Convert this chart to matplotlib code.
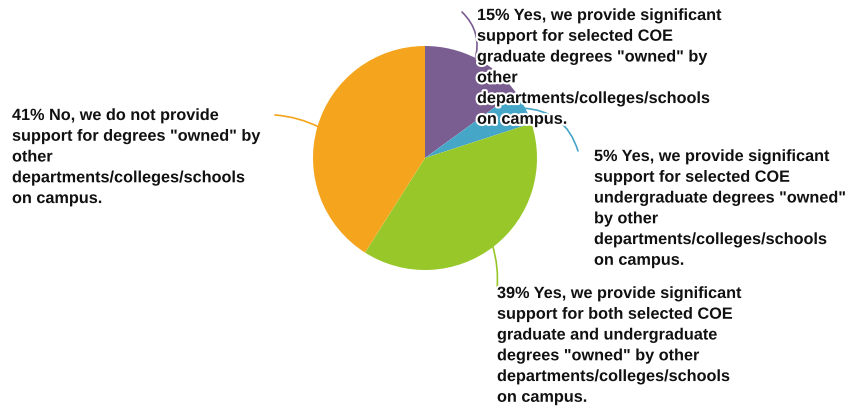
import matplotlib.pyplot as plt
import matplotlib.patheffects as pe
import numpy as np

plt.rcParams['font.family'] = ['Liberation Sans', 'DejaVu Sans']

# data
shares = [15, 5, 39, 41]
labels = [
    '15% Yes, we provide significant\nsupport for selected COE\ngraduate degrees "owned" by\nother\ndepartments/colleges/schools\non campus.',
    '5% Yes, we provide significant\nsupport for selected COE\nundergraduate degrees "owned"\nby other\ndepartments/colleges/schools\non campus.',
    '39% Yes, we provide significant\nsupport for both selected COE\ngraduate and undergraduate\ndegrees "owned" by other\ndepartments/colleges/schools\non campus.',
    '41% No, we do not provide\nsupport for degrees "owned" by\nother\ndepartments/colleges/schools\non campus.',
]
colors = ['#7B5E91', '#46A6C8', '#98C72A', '#F5A51D']

W, H = 847, 407
fig = plt.figure(figsize=(W / 100, H / 100), dpi=100)

cx, cy, r = 425, 158, 112
ax = fig.add_axes([(cx - r) / W, (H - cy - r) / H, 2 * r / W, 2 * r / H])
ax.pie(shares, colors=colors, startangle=90, counterclock=False, radius=1,
       wedgeprops=dict(linewidth=0))
ax.set_xlim(-1, 1)
ax.set_ylim(-1, 1)
ax.set_aspect('auto')
ax.axis('off')

# label positions (pixels: left, top) and leader end points
text_pos = [(477, 8), (594, 149), (497, 286), (12, 108)]
line_end = [(462, 12), (578, 151), (497, 290), (275, 115)]
rads = [-0.3, 0.35, 0.1, -0.1]

def px(x, y):
    return (x / W, 1 - y / H)

cum = np.cumsum([0] + shares[:-1])
for i, (s, c0) in enumerate(zip(shares, cum)):
    mid = (c0 + s / 2) / 100 * 2 * np.pi
    x0, y0 = np.sin(mid) * 0.98, np.cos(mid) * 0.98
    ax.annotate('', xy=(x0, y0), xycoords='data',
                xytext=px(*line_end[i]), textcoords='figure fraction',
                arrowprops=dict(arrowstyle='-', color=colors[i], lw=1.2,
                                connectionstyle=f'arc3,rad={rads[i]}',
                                shrinkA=0, shrinkB=0))

for i, lab in enumerate(labels):
    fig.text(*px(*text_pos[i]), lab, ha='left', va='top', fontsize=11.7,
             fontweight='bold', color='#111111', linespacing=1.48,
             path_effects=[pe.withStroke(linewidth=3, foreground='white')])

fig.savefig('out.png', dpi=100)
